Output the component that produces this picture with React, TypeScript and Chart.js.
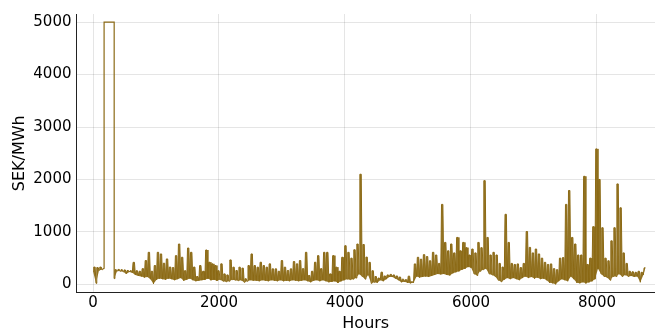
import { useEffect, useRef } from "react";
import { Chart, registerables } from "chart.js";

Chart.register(...registerables);

// null = hours covered by the 5000 SEK/MWh price-cap block (drawn from the cap arrays).
const BIN_HOURS = 48;
const binLows: (number | null)[] = [
  250, 20, 270, 280, null, null, null, 110, 255, 250,
  240, 200, 235, 220, 180, 160, 150, 130, 140, 100,
  10, 90, 110, 100, 90, 110, 100, 80, 100, 120,
  70, 90, 110, 80, 60, 70, 80, 90, 110, 80,
  90, 70, 90, 60, 50, 60, 90, 80, 70, 80,
  40, 60, 80, 70, 70, 60, 80, 70, 60, 80,
  70, 60, 80, 60, 70, 60, 80, 70, 60, 70,
  80, 60, 40, 70, 80, 60, 80, 60, 40, 50,
  60, 30, 60, 80, 100, 90, 100, 120, 200, 150,
  100, 180, 20, 40, 30, 80, 60, 100, 140, 140,
  110, 80, 40, 50, 30, 20, 30, 150, 130, 140,
  150, 140, 160, 180, 200, 190, 200, 180, 170, 210,
  230, 250, 280, 300, 330, 320, 200, 170, 250, 280,
  300, 200, 180, 150, 80, 50, 90, 120, 100, 120,
  100, 80, 120, 150, 120, 140, 110, 130, 100, 110,
  80, 30, 20, 0, 60, 100, 80, 60, 150, 100,
  30, 20, 40, 20, 40, 60, 100, 300, 200, 150,
  130, 80, 150, 150, 200, 150, 180, 150, 160, 140,
  150, 40, 180,
];
const binHighs: (number | null)[] = [
  330, 320, 330, 300, null, null, null, 280, 285, 280,
  275, 265, 260, 420, 260, 250, 300, 454, 611, 250,
  359, 611, 580, 403, 485, 330, 320, 548, 769, 517,
  260, 693, 611, 330, 150, 360, 250, 655, 422, 391,
  359, 260, 391, 200, 180, 466, 328, 265, 328, 310,
  107, 359, 580, 359, 328, 422, 359, 328, 391, 296,
  296, 250, 454, 328, 265, 296, 435, 391, 454, 300,
  611, 170, 250, 422, 548, 300, 611, 611, 200, 548,
  328, 250, 517, 737, 611, 500, 660, 769, 2100, 760,
  520, 420, 260, 150, 120, 233, 160, 180, 190, 180,
  160, 140, 100, 90, 157, 50, 390, 516, 480, 567,
  530, 450, 611, 560, 400, 1525, 800, 640, 770, 600,
  895, 640, 800, 700, 560, 674, 600, 800, 700, 1978,
  895, 560, 611, 560, 400, 330, 1336, 800, 400, 380,
  390, 320, 400, 1008, 705, 600, 674, 580, 500, 420,
  380, 390, 300, 280, 500, 510, 1525, 1790, 895, 770,
  560, 560, 2060, 380, 500, 1100, 2583, 2000, 1080, 500,
  450, 830, 1080, 1915, 1460, 600, 400, 250, 240, 230,
  250, 230, 315,
];

// Price-cap block early in the year
const capHours = [176, 176, 336, 336];
const capPrices = [300, 5000, 5000, 110];

const xTicks = [0, 2000, 4000, 6000, 8000];
const yTicks = [0, 1000, 2000, 3000, 4000, 5000];
const xTitle = "Hours";
const yTitle = "SEK/MWh";

const LINE_COLOR = "rgb(139,105,20)";
const FILL_COLOR = "rgba(139,105,20,0.92)";
const FONT = "'DejaVu Sans', sans-serif";

export default function App() {
  const ref = useRef<HTMLCanvasElement | null>(null);

  useEffect(() => {
    if (!ref.current) return;
    const upper: { x: number; y: number | null }[] = [];
    const lower: { x: number; y: number | null }[] = [];
    binLows.forEach((lo, i) => {
      const x0 = i * BIN_HOURS;
      const hi = binHighs[i];
      upper.push({ x: x0, y: lo });
      upper.push({ x: x0 + 12, y: hi });
      upper.push({ x: x0 + 34, y: hi });
      lower.push({ x: x0, y: lo });
    });
    const last = binHighs[binHighs.length - 1];
    lower.push({ x: (binLows.length - 1) * BIN_HOURS + 34, y: last });
    const cap = capHours.map((h, i) => ({ x: h, y: capPrices[i] }));

    const chart = new Chart(ref.current, {
      type: "line",
      data: {
        datasets: [
          {
            data: lower,
            borderWidth: 0,
            borderColor: "rgba(0,0,0,0)",
            pointRadius: 0,
            tension: 0,
            fill: false,
          },
          {
            data: upper,
            borderColor: LINE_COLOR,
            backgroundColor: FILL_COLOR,
            borderWidth: 1,
            pointRadius: 0,
            tension: 0,
            fill: 0,
          },
          {
            data: cap,
            borderColor: LINE_COLOR,
            borderWidth: 1.2,
            pointRadius: 0,
            tension: 0,
            fill: false,
          },
        ],
      },
      options: {
        animation: false,
        responsive: false,
        devicePixelRatio: 1,
        layout: { padding: { top: 11, right: 0, left: 0, bottom: 0 } },
        plugins: { legend: { display: false }, tooltip: { enabled: false } },
        scales: {
          x: {
            type: "linear",
            min: -262,
            max: 8921,
            afterBuildTicks: (s: any) => {
              s.ticks = xTicks.map((v) => ({ value: v }));
            },
            afterFit: (s: any) => {
              s.height = 36.5;
            },
            grid: { color: "rgba(0,0,0,0.1)", lineWidth: 1, drawTicks: false },
            border: { display: true, color: "#222", width: 1 },
            ticks: {
              padding: 2,
              maxRotation: 0,
              color: "#000",
              font: { family: FONT, size: 15 },
              callback: (v: any) => String(v),
            },
            title: {
              display: true,
              text: xTitle,
              color: "#000",
              font: { family: FONT, size: 16 },
              padding: { top: 0, bottom: -4 },
            },
          },
          y: {
            type: "linear",
            min: -155,
            max: 5155,
            afterBuildTicks: (s: any) => {
              s.ticks = yTicks.map((v) => ({ value: v }));
            },
            afterFit: (s: any) => {
              s.width = 76.5;
            },
            grid: { color: "rgba(0,0,0,0.1)", lineWidth: 1, drawTicks: false },
            border: { display: true, color: "#222", width: 1 },
            ticks: {
              padding: 5,
              color: "#000",
              font: { family: FONT, size: 15 },
              callback: (v: any) => String(v),
            },
            title: {
              display: true,
              text: yTitle,
              color: "#000",
              font: { family: FONT, size: 16 },
              padding: { top: 10, bottom: 0 },
            },
          },
        },
      },
    });
    return () => chart.destroy();
  }, []);

  return (
    <div style={{ position: "fixed", left: 0, top: 0, width: 655, height: 329, background: "#fff" }}>
      <canvas ref={ref} width={655} height={329} style={{ width: 655, height: 329, display: "block" }} />
    </div>
  );
}
